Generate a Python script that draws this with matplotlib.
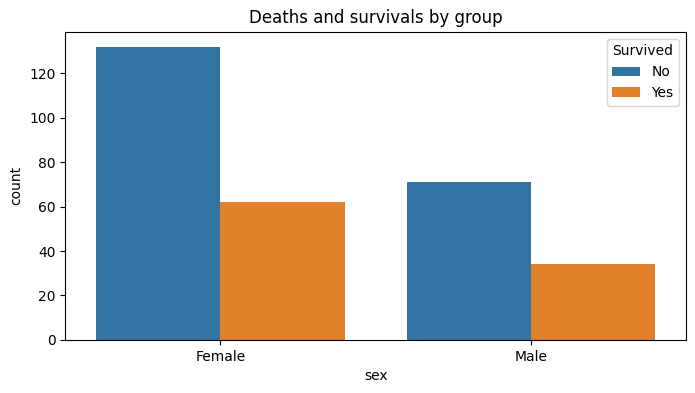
import matplotlib
matplotlib.use("Agg")
import matplotlib.pyplot as plt
import seaborn as sns
import pandas as pd

sexes = ["Female", "Female", "Male", "Male"]
survived = ["No", "Yes", "No", "Yes"]
counts = [132, 62, 71, 34]

df = pd.DataFrame({"sex": sexes, "Survived": survived, "count": counts})

fig, ax = plt.subplots(figsize=(6.95, 3.93), dpi=100)
sns.barplot(data=df, x="sex", y="count", hue="Survived", ax=ax)
ax.set_title("Deaths and survivals by group")
plt.subplots_adjust(left=0.094, right=0.987, top=0.919, bottom=0.135)
fig.savefig("out.png", dpi=100)
